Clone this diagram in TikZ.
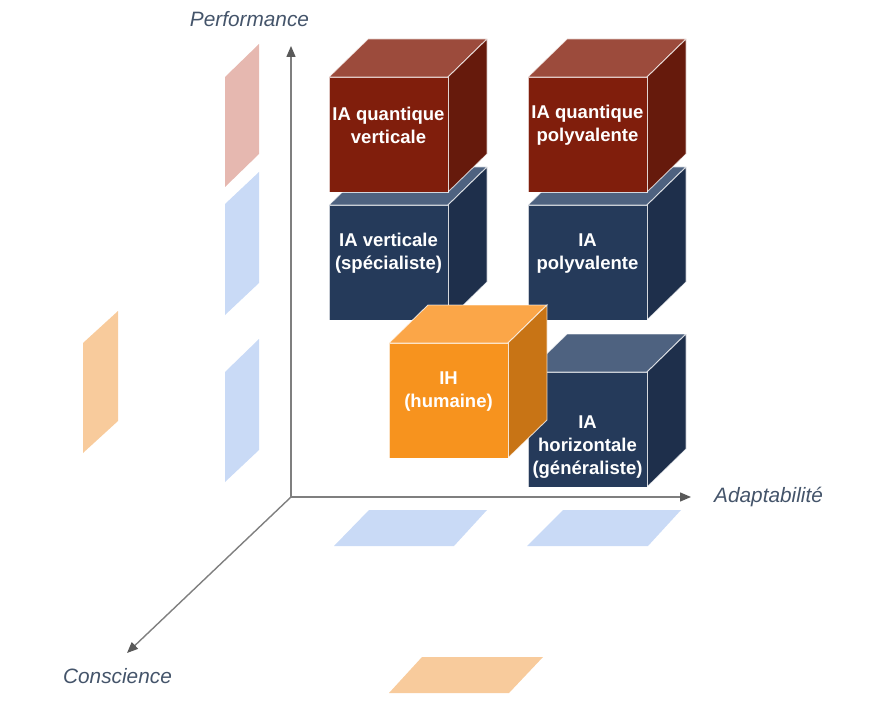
\documentclass[tikz,border=0pt]{standalone}
\usepackage{fontspec}
\setmainfont{Liberation Sans}
\usetikzlibrary{arrows.meta}
\definecolor{navyF}{HTML}{253A5A}
\definecolor{navyT}{HTML}{4E6280}
\definecolor{navyS}{HTML}{1E2F4B}
\definecolor{redF}{HTML}{801E0C}
\definecolor{redT}{HTML}{9C4B3C}
\definecolor{redS}{HTML}{661A0C}
\definecolor{oraF}{HTML}{F7931E}
\definecolor{oraT}{HTML}{FBA648}
\definecolor{oraS}{HTML}{C87415}
\definecolor{projB}{HTML}{C9DAF6}
\definecolor{projR}{HTML}{E6B8B0}
\definecolor{projO}{HTML}{F8CB9C}
\definecolor{axisc}{HTML}{7F7F7F}
\definecolor{tipc}{HTML}{595959}
\definecolor{labc}{HTML}{44546A}
\newcommand\mycube[5]{%
  \filldraw[fill=#4,cubeedge] (#1,#2) -- ++(39,-38) -- ++(119,0) -- ++(-39,38) -- cycle;
  \filldraw[fill=#5,cubeedge] ({#1+119},#2) -- ++(39,-38) -- ++(0,115) -- ++(-39,38) -- cycle;
  \filldraw[fill=#3,cubeedge] (#1,#2) rectangle ++(119,115);
}
\begin{document}
\begin{tikzpicture}[x=1pt,y=-1pt,
  cubeedge/.style={draw=white,draw opacity=0.75,line width=0.9pt},
  axisline/.style={draw=axisc,line width=1.4pt,-{Triangle[length=11pt,width=9pt,color=tipc]}},
  axislabel/.style={font=\fontsize{20.8}{24}\selectfont\itshape,text=labc,inner sep=0pt},
  cubelabel/.style={font=\fontsize{18.5}{23}\selectfont\bfseries,text=white,align=center,inner sep=0pt}]
\useasboundingbox (0,0) rectangle (893,711);
% left projections
\fill[projR] (225,77) -- (259,44) -- (259,154) -- (225,187) -- cycle;
\fill[projB] (225,204) -- (259,172) -- (259,283) -- (225,315) -- cycle;
\fill[projB] (225,372) -- (259,339) -- (259,450) -- (225,482) -- cycle;
\fill[projO] (83,343) -- (118,311) -- (118,421) -- (83,453) -- cycle;
% floor projections
\fill[projB] (369,510) -- (487,510) -- (454,546) -- (334,546) -- cycle;
\fill[projB] (563,510) -- (681,510) -- (648,546) -- (527,546) -- cycle;
\fill[projO] (422,657) -- (543,657) -- (509,693) -- (389,693) -- cycle;
% axes
\coordinate (O) at (291,497);
\coordinate (P) at (291,46);
\coordinate (A) at (691,497);
\coordinate (C) at (127,653);
\draw[axisline] (O) -- (P);
\draw[axisline] (O) -- (A);
\draw[axisline] (O) -- (C);
\node[axislabel,anchor=base] (lp) at (249.5,27) {Performance};
\node[axislabel,anchor=base west] (la) at (714,502) {Adaptabilité};
\node[axislabel,anchor=base] (lc) at (117.5,683) {Conscience};
% cubes
\mycube{329}{205}{navyF}{navyT}{navyS}
\mycube{329}{77}{redF}{redT}{redS}
\mycube{528}{205}{navyF}{navyT}{navyS}
\mycube{528}{77}{redF}{redT}{redS}
\mycube{528}{372}{navyF}{navyT}{navyS}
\mycube{389}{343}{oraF}{oraT}{oraS}
% labels
\node[cubelabel] (qv) at (388.5,125.5) {IA quantique\\verticale};
\node[cubelabel] (qp) at (587.5,125.5) {IA quantique\\polyvalente};
\node[cubelabel] (vs) at (388.5,253.5) {IA verticale\\(spécialiste)};
\node[cubelabel] (pv) at (587.5,253.5) {IA\\polyvalente};
\node[cubelabel] (ih) at (448.5,391.5) {IH\\(humaine)};
\node[cubelabel] (hg) at (587.5,447.5) {IA\\horizontale\\(généraliste)};
\end{tikzpicture}
\end{document}
